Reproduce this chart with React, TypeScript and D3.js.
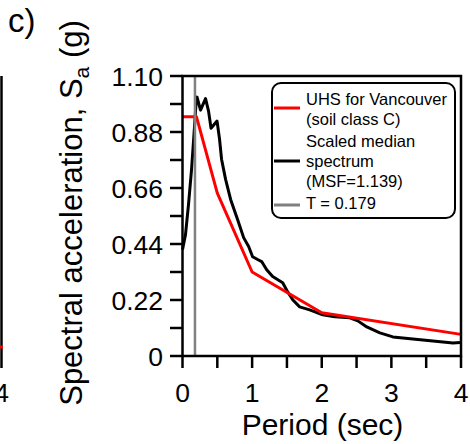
import React from "react";
import * as d3 from "d3";

const medianT = [0, 0.043, 0.086, 0.13, 0.165, 0.194, 0.209, 0.259, 0.331, 0.374, 0.41, 0.496, 0.532, 0.561, 0.619, 0.691, 0.791, 0.878, 0.95, 1.007, 1.079, 1.137, 1.209, 1.295, 1.439, 1.511, 1.583, 1.683, 1.827, 2.014, 2.187, 2.403, 2.518, 2.647, 2.835, 3.022, 3.309, 3.597, 3.885, 3.986];
const medianSa = [0.418, 0.477, 0.595, 0.733, 0.871, 0.99, 1.017, 0.966, 1.011, 0.962, 0.895, 0.923, 0.852, 0.773, 0.694, 0.615, 0.536, 0.465, 0.43, 0.39, 0.379, 0.371, 0.339, 0.312, 0.288, 0.252, 0.221, 0.193, 0.181, 0.162, 0.154, 0.15, 0.138, 0.114, 0.091, 0.075, 0.067, 0.059, 0.051, 0.053];

const uhsT = [0, 0.2, 0.5, 1.0, 2.0, 4.0];
const uhsSa = [0.94, 0.94, 0.64, 0.33, 0.17, 0.085];

const periodT = 0.179;

const yTickValues = [0, 0.11, 0.22, 0.33, 0.44, 0.55, 0.66, 0.77, 0.88, 0.99, 1.1];
const yLabelValues = [0, 0.22, 0.44, 0.66, 0.88, 1.1];
const yLabelTexts = ["0", "0.22", "0.44", "0.66", "0.88", "1.10"];
const xTickValues = [0, 0.5, 1, 1.5, 2, 2.5, 3, 3.5, 4];
const xLabelValues = [0, 1, 2, 3, 4];
const xLabelTexts = ["0", "1", "2", "3", "4"];

const legendLabels = [
  ["UHS for Vancouver", "(soil class C)"],
  ["Scaled median", "spectrum", "(MSF=1.139)"],
  ["T = 0.179"],
];
const legendColors = ["#ff0000", "#000000", "#808080"];

const FONT = "'Liberation Sans', Arial, Helvetica, sans-serif";

export default function App() {
  const W = 470, H = 444;
  const x = d3.scaleLinear().domain([0, 4]).range([182.5, 461]);
  const y = d3.scaleLinear().domain([0, 1.1]).range([356, 76]);

  const line = d3
    .line<[number, number]>()
    .x((d) => x(d[0]))
    .y((d) => y(d[1]));

  const medianPts = medianT.map((t, i) => [t, medianSa[i]] as [number, number]);
  const uhsPts = uhsT.map((t, i) => [t, uhsSa[i]] as [number, number]);

  const legX = 272, legY = 83, legW = 183, legH = 135;
  const textX = 306;
  const textBaselines = [[105, 125], [147, 167, 187], [209]];
  const lineYs = [108, 161, 205];

  return (
    <svg
      width={W}
      height={H}
      style={{ position: "absolute", left: 0, top: 0, background: "#fff" }}
      fontFamily={FONT}
    >
      <rect x={0} y={0} width={W} height={H} fill="#fff" />
      {/* panel label */}
      <text x={8} y={32} fontSize={33} fill="#000">c)</text>

      {/* fragment of previous panel */}
      <line x1={1.5} x2={1.5} y1={76} y2={368} stroke="#000" strokeWidth={2.5} />
      <line x1={0} x2={3} y1={347} y2={347} stroke="#ff0000" strokeWidth={3} />
      <text x={1.5} y={402} fontSize={26.5} textAnchor="middle" fill="#000">4</text>

      {/* y axis title */}
      <text
        transform={`translate(82,213) rotate(-90)`}
        fontSize={31}
        textAnchor="middle"
        fill="#000"
      >
        Spectral acceleration, S
        <tspan fontSize={21} dy={7}>a</tspan>
        <tspan dy={-7}> (g)</tspan>
      </text>

      {/* x axis title */}
      <text x={322.5} y={435} fontSize={30} textAnchor="middle" fill="#000">
        Period (sec)
      </text>

      {/* y ticks */}
      {yTickValues.map((v) => (
        <line key={"yt" + v} x1={170} x2={x(0)} y1={y(v)} y2={y(v)} stroke="#000" strokeWidth={2.5} />
      ))}
      {yLabelValues.map((v, i) => (
        <text key={"yl" + v} x={163} y={y(v)} dy="0.36em" fontSize={26.5} textAnchor="end" fill="#000">
          {yLabelTexts[i]}
        </text>
      ))}

      {/* x ticks */}
      {xTickValues.map((v) => (
        <line key={"xt" + v} x1={x(v)} x2={x(v)} y1={y(0)} y2={368} stroke="#000" strokeWidth={2.5} />
      ))}
      {xLabelValues.map((v, i) => (
        <text key={"xl" + v} x={x(v)} y={402} fontSize={26.5} textAnchor="middle" fill="#000">
          {xLabelTexts[i]}
        </text>
      ))}

      {/* data */}
      <path d={line(medianPts) || ""} fill="none" stroke="#000" strokeWidth={3} strokeLinejoin="round" />
      <path d={line(uhsPts) || ""} fill="none" stroke="#ff0000" strokeWidth={3} strokeLinejoin="round" />
      <line x1={x(periodT)} x2={x(periodT)} y1={y(0)} y2={y(1.1)} stroke="#808080" strokeWidth={2.5} />

      {/* frame */}
      <rect
        x={x(0)}
        y={y(1.1)}
        width={x(4) - x(0)}
        height={y(0) - y(1.1)}
        fill="none"
        stroke="#000"
        strokeWidth={2.5}
      />

      {/* legend */}
      <rect x={legX} y={legY} width={legW} height={legH} rx={9} ry={9} fill="#fff" stroke="#000" strokeWidth={2} />
      {legendLabels.map((lines, i) => (
        <g key={"lg" + i}>
          <line x1={274} x2={300} y1={lineYs[i]} y2={lineYs[i]} stroke={legendColors[i]} strokeWidth={3} />
          {lines.map((t, j) => (
            <text key={j} x={textX} y={textBaselines[i][j]} fontSize={16.5} fill="#000">
              {t}
            </text>
          ))}
        </g>
      ))}
    </svg>
  );
}
